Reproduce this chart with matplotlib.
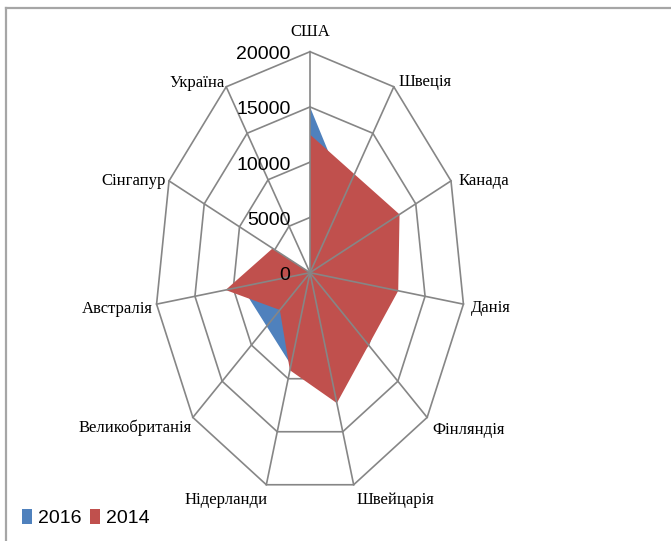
import numpy as np
import matplotlib
matplotlib.use("Agg")
import matplotlib.pyplot as plt
from matplotlib.patches import Patch
from matplotlib.lines import Line2D

# ---------------- data ----------------
categories = ['США', 'Швеція', 'Канада', 'Данія', 'Фінляндія', 'Швейцарія',
              'Нідерланди', 'Великобританія', 'Австралія', 'Сінгапур', 'Україна']
values_2016 = [15000, 8500, 11000, 10000, 9000, 11000, 8700, 7400, 8900, 4000, 0]
values_2014 = [12500, 10600, 12700, 11500, 10000, 12300, 9200, 5150, 11000, 5300, 0]
ring_values = [0, 5000, 10000, 15000, 20000]
ring_labels = ['0', '5000', '10000', '15000', '20000']
series_names = ['2016', '2014']

# ---------------- style ----------------
W, H = 671, 541
DPI = 100
CX, CY = 310.0, 272.7          # centre in pixels (from top-left)
RX, RY = 155.0, 221.0          # pixel radius of 20000 horizontally / vertically
VMAX = 20000.0
C_BLUE = '#4F81BD'
C_RED = '#C0504D'
C_GRID = '#868686'
serif = ['Liberation Serif', 'DejaVu Serif']
narrow = ['Liberation Sans Narrow', 'Liberation Sans', 'DejaVu Sans']

label_style = {  # ha, dx, dy (pixels)
    'США': ('center', 0, 20),
    'Швеція': ('left', 5, 5),
    'Канада': ('left', 8, 0),
    'Данія': ('left', 7, -4),
    'Фінляндія': ('left', 5, -12.6),
    'Швейцарія': ('left', 3, -15),
    'Нідерланди': ('right', 1, -15),
    'Великобританія': ('right', -1, -10.6),
    'Австралія': ('right', -3.6, -5),
    'Сінгапур': ('right', -3.3, 0),
    'Україна': ('right', -1, 3.7),
}

fig = plt.figure(figsize=(W / DPI, H / DPI), dpi=DPI)
ax = fig.add_axes([0, 0, 1, 1])
ux = VMAX / RX
uy = VMAX / RY
ax.set_xlim(-CX * ux, (W - CX) * ux)
ax.set_ylim(-(H - CY) * uy, CY * uy)
ax.axis('off')

n = len(categories)
theta = 2 * np.pi * np.arange(n) / n
sx, cy_ = np.sin(theta), np.cos(theta)


def xy(vals):
    v = np.asarray(vals, dtype=float)
    return v * sx, v * cy_


# rings (under the fills)
for rv in ring_values[1:]:
    x, y = xy([rv] * n)
    ax.plot(np.append(x, x[0]), np.append(y, y[0]), color=C_GRID, lw=1.2, zorder=1)

# series fills
for vals, col, z in [(values_2016, C_BLUE, 2), (values_2014, C_RED, 3)]:
    x, y = xy(vals)
    ax.fill(x, y, color=col, lw=0, zorder=z)

# spokes (over the fills)
xo, yo = xy([VMAX] * n)
for i in range(n):
    ax.plot([0, xo[i]], [0, yo[i]], color=C_GRID, lw=1.2, zorder=4)

# category labels
for i, name in enumerate(categories):
    ha, dx, dy = label_style[name]
    ax.annotate(name, (xo[i], yo[i]), xytext=(dx, dy), textcoords='offset pixels',
                ha=ha, va='center', fontsize=12, family=serif, color='black', zorder=6)

# value labels
for rv, lab in zip(ring_values, ring_labels):
    ax.annotate(lab, (0, rv), xytext=(-19.5, -3), textcoords='offset pixels',
                ha='right', va='center', fontsize=14, family=narrow, color='black', zorder=6)

# legend
handles = [Patch(facecolor=C_BLUE, edgecolor='none'), Patch(facecolor=C_RED, edgecolor='none')]
fig.legend(handles, series_names, loc='lower left', bbox_to_anchor=(18 / W, 10 / H),
           ncol=2, frameon=False, prop={'family': narrow, 'size': 14},
           handlelength=0.52, handleheight=0.78, handletextpad=0.3,
           columnspacing=0.45, borderpad=0.2, borderaxespad=0)

# chart-area border (top and left visible)
fig.add_artist(Line2D([6 / W, 1], [1 - 8 / H, 1 - 8 / H], color='#A6A6A6', lw=1.6))
fig.add_artist(Line2D([6 / W, 6 / W], [0, 1 - 8 / H], color='#A6A6A6', lw=1.6))

fig.savefig('out.png', dpi=DPI, facecolor='white')
